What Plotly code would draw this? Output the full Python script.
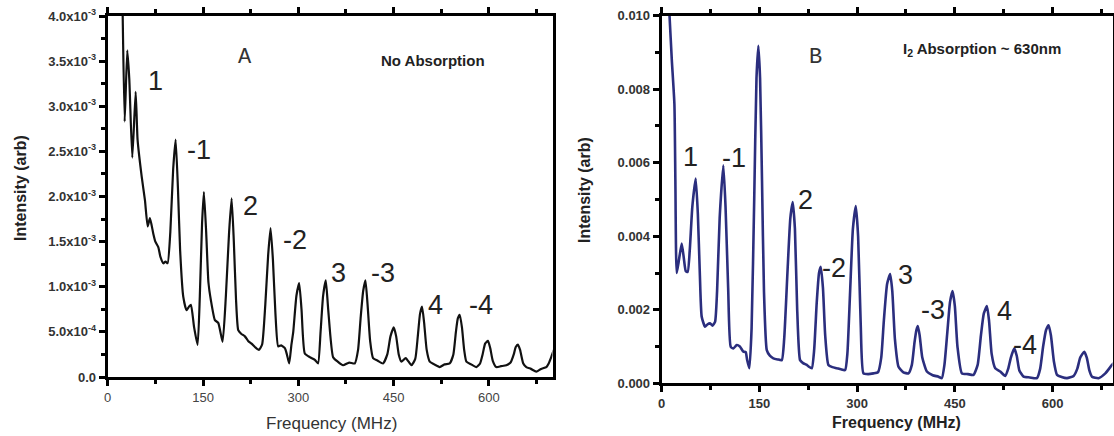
import plotly.graph_objects as go

W, H = 1114, 436

# ---------------- Data ----------------
freq_a = [22.5, 23.6, 26.7, 30.8, 34.0, 38.7, 44.0, 47.0, 53.5, 58.6, 62.9, 66.5, 71.7, 75.0, 79.6,
          83.0, 87.5, 91.0, 94.3, 98.5, 103.0, 106.9, 110.5, 114.0, 118.9, 124.0, 128.0, 131.0,
          136.0, 141.5, 145.0, 148.5, 151.4, 155.0, 158.5, 162.4, 168.7, 174.0, 180.8, 186.0,
          191.0, 195.0, 198.5, 202.0, 205.4, 210.0, 215.9, 221.0, 226.4, 232.0, 237.9, 243.0,
          248.0, 252.5, 256.3, 260.0, 264.0, 268.3, 273.0, 278.8, 282.0, 285.6, 289.0, 292.0,
          297.0, 301.3, 305.0, 310.2, 318.0, 326.0, 331.0, 335.0, 339.0, 343.2, 347.0, 354.7,
          362.0, 370.4, 380.0, 388.8, 394.0, 398.0, 402.0, 405.6, 409.0, 413.0, 417.6, 425.0,
          433.3, 440.0, 445.0, 450.2, 454.0, 458.0, 462.2, 469.0, 478.0, 484.0, 488.0, 491.5,
          494.7, 498.0, 502.0, 506.8, 514.0, 522.5, 530.0, 538.2, 544.0, 548.0, 551.0, 554.0,
          557.5, 561.0, 564.5, 572.0, 580.2, 586.0, 590.0, 594.0, 598.4, 602.0, 606.0, 611.6,
          619.0, 627.4, 634.0, 639.0, 642.0, 645.6, 649.0, 654.0, 658.8, 666.0, 674.5, 682.0,
          690.3, 694.0, 698.0, 702.0]
inten_a = [4.60, 4.00, 2.83, 3.62, 3.30, 2.43, 3.16, 2.63, 2.22, 1.96, 1.67, 1.76, 1.59, 1.50, 1.44,
           1.33, 1.26, 1.28, 1.26, 1.60, 2.30, 2.63, 2.10, 1.40, 0.89, 0.74, 0.78, 0.80,
           0.55, 0.355, 0.90, 1.70, 2.05, 1.60, 1.05, 0.85, 0.63, 0.60, 0.39, 0.90,
           1.60, 1.98, 1.50, 0.85, 0.52, 0.48, 0.45, 0.40, 0.37, 0.33, 0.30, 0.36,
           0.80, 1.35, 1.65, 1.30, 0.70, 0.34, 0.35, 0.32, 0.25, 0.15, 0.35, 0.50,
           0.90, 1.04, 0.75, 0.26, 0.22, 0.19, 0.15, 0.50, 0.90, 1.07, 0.75, 0.22,
           0.17, 0.13, 0.16, 0.15, 0.30, 0.65, 0.95, 1.07, 0.80, 0.40, 0.21, 0.18,
           0.15, 0.25, 0.45, 0.55, 0.45, 0.25, 0.17, 0.21, 0.13, 0.20, 0.45, 0.70,
           0.78, 0.60, 0.30, 0.17, 0.14, 0.11, 0.14, 0.15, 0.25, 0.50, 0.65, 0.69,
           0.55, 0.30, 0.17, 0.14, 0.11, 0.15, 0.25, 0.37, 0.40, 0.32, 0.18, 0.11,
           0.12, 0.13, 0.16, 0.25, 0.33, 0.36, 0.30, 0.15, 0.11, 0.09, 0.06, 0.09,
           0.11, 0.15, 0.22, 0.30]  # units of 1e-3

freq_b = [10.0, 12.0, 15.5, 19.5, 21.0, 23.0, 26.0, 30.7, 34.0, 37.0, 39.9, 43.0, 47.0, 52.2,
          55.5, 58.5, 61.4, 66.5, 70.0, 74.2, 78.0, 81.9, 85.0, 89.0, 94.6, 98.0, 102.0, 106.0,
          110.0, 115.2, 120.0, 125.4, 129.0, 131.0, 134.6, 138.0, 142.0, 145.5, 148.4, 151.0,
          154.0, 157.0, 161.3, 166.0, 171.4, 178.0, 184.3, 188.0, 193.0, 197.5, 201.2, 204.5,
          208.0, 212.4, 217.0, 222.7, 226.0, 230.4, 234.0, 238.0, 241.5, 244.2, 247.5, 251.0,
          255.9, 262.0, 268.8, 275.0, 281.6, 285.0, 289.0, 293.5, 298.0, 301.5, 305.5, 309.7,
          317.0, 325.0, 332.0, 337.0, 341.0, 346.0, 350.7, 354.0, 358.0, 363.5, 371.0, 378.8,
          384.0, 388.0, 391.0, 393.2, 396.0, 400.0, 407.0, 416.0, 424.9, 430.0, 434.0, 438.5,
          442.5, 446.4, 450.0, 454.0, 460.8, 470.0, 478.6, 485.0, 490.0, 494.5, 499.2, 502.5,
          506.5, 512.0, 519.7, 527.4, 532.0, 536.0, 541.2, 545.0, 549.0, 555.5, 565.0, 576.0,
          581.0, 585.5, 590.0, 593.9, 597.5, 602.0, 606.8, 614.0, 622.1, 632.3, 638.0, 642.5,
          648.7, 652.5, 656.5, 660.5, 670.7, 681.0, 691.2, 698.0]
inten_b = [10.6, 10.0, 8.80, 7.60, 5.50, 3.00, 3.30, 3.80, 3.40, 3.05, 3.03, 3.60, 4.80, 5.57,
           4.60, 3.00, 1.81, 1.54, 1.60, 1.63, 1.57, 1.67, 2.50, 4.50, 5.93, 4.80, 2.60, 0.99,
           0.95, 1.04, 1.00, 0.86, 0.85, 0.65, 0.41, 1.50, 5.00, 8.30, 9.18, 8.30,
           5.50, 2.50, 0.90, 0.75, 0.68, 0.65, 0.63, 1.20, 3.00, 4.50, 4.93, 4.20,
           2.00, 0.63, 0.55, 0.50, 0.45, 0.41, 0.90, 2.20, 3.00, 3.17, 2.60, 1.30,
           0.50, 0.44, 0.41, 0.38, 0.36, 0.80, 2.40, 4.20, 4.82, 4.00, 1.60, 0.27,
           0.25, 0.27, 0.30, 0.70, 1.70, 2.70, 2.97, 2.50, 1.20, 0.45, 0.30, 0.27,
           0.50, 1.10, 1.45, 1.56, 1.30, 0.70, 0.32, 0.22, 0.18, 0.14, 0.50, 1.40,
           2.20, 2.51, 2.10, 1.00, 0.27, 0.25, 0.23, 0.50, 1.30, 1.90, 2.10, 1.70,
           0.80, 0.41, 0.32, 0.20, 0.40, 0.70, 0.95, 0.75, 0.35, 0.18, 0.16, 0.14,
           0.40, 1.00, 1.45, 1.58, 1.30, 0.60, 0.23, 0.17, 0.14, 0.20, 0.40, 0.70,
           0.86, 0.70, 0.35, 0.18, 0.14, 0.27, 0.50, 0.62]  # units of 1e-3

x_ticks = [0, 150, 300, 450, 600]
ya_ticks = [0, 0.5e-3, 1.0e-3, 1.5e-3, 2.0e-3, 2.5e-3, 3.0e-3, 3.5e-3, 4.0e-3]
ya_labels = ["0.0", "5.0x10<sup>-4</sup>", "1.0x10<sup>-3</sup>", "1.5x10<sup>-3</sup>",
             "2.0x10<sup>-3</sup>", "2.5x10<sup>-3</sup>", "3.0x10<sup>-3</sup>",
             "3.5x10<sup>-3</sup>", "4.0x10<sup>-3</sup>"]
yb_ticks = [0.0, 0.002, 0.004, 0.006, 0.008, 0.010]
yb_labels = ["0.000", "0.002", "0.004", "0.006", "0.008", "0.010"]

peak_labels_a = ["1", "-1", "2", "-2", "3", "-3", "4", "-4"]
peak_labels_b = ["1", "-1", "2", "-2", "3", "-3", "4", "-4"]

# ---------------- Figure ----------------
def px_x(p):
    return p / W

def px_y(p):
    return 1 - p / H

fig = go.Figure()
fig.add_trace(go.Scatter(x=freq_a, y=[v * 1e-3 for v in inten_a], mode="lines",
                         line=dict(color="#111111", width=2.2, shape="spline", smoothing=0.5),
                         xaxis="x", yaxis="y", showlegend=False))
fig.add_trace(go.Scatter(x=freq_b, y=[v * 1e-3 for v in inten_b], mode="lines",
                         line=dict(color="#2b2e7e", width=2.6, shape="spline", smoothing=0.5),
                         xaxis="x2", yaxis="y2", showlegend=False))

FONT = "Liberation Sans, Arial, sans-serif"
axcommon = dict(showgrid=False, zeroline=False, showline=True, linecolor="black", linewidth=3,
                ticks="outside", ticklen=6, tickwidth=3, tickcolor="black", automargin=False)

fig.update_layout(
    width=W, height=H,
    margin=dict(l=0, r=0, t=0, b=0),
    paper_bgcolor="white", plot_bgcolor="white",
    font=dict(family=FONT, color="#333333"),
    xaxis=dict(domain=[px_x(107.7), px_x(552.5)], range=[0, 700], anchor="y",
               tickmode="array", tickvals=x_ticks, mirror="ticks",
               minor=dict(dtick=75, tick0=0, ticklen=4, tickwidth=3, ticks="outside", tickcolor="black"),
               tickfont=dict(size=13, color="#444444", family=FONT), **axcommon),
    yaxis=dict(domain=[px_y(377), px_y(16)], range=[0, 4.0e-3], anchor="x",
               tickmode="array", tickvals=ya_ticks, ticktext=ya_labels, mirror=True,
               minor=dict(dtick=0.25e-3, tick0=0, ticklen=4, tickwidth=3, ticks="outside", tickcolor="black"),
               tickfont=dict(size=13, color="#333333", family=FONT, weight="bold"), **axcommon),
    xaxis2=dict(domain=[px_x(661.7), px_x(1112.5)], range=[0, 692], anchor="y2",
                tickmode="array", tickvals=x_ticks, mirror="ticks",
                minor=dict(dtick=75, tick0=0, ticklen=4, tickwidth=3, ticks="outside", tickcolor="black"),
                tickfont=dict(size=13, color="#333333", family=FONT, weight="bold"), **axcommon),
    yaxis2=dict(domain=[px_y(383.3), px_y(15.7)], range=[0, 0.010], anchor="x2",
                tickmode="array", tickvals=yb_ticks, ticktext=yb_labels, mirror=True,
                minor=dict(dtick=0.001, tick0=0, ticklen=4, tickwidth=3, ticks="outside", tickcolor="black"),
                tickfont=dict(size=13, color="#333333", family=FONT, weight="bold"), **axcommon),
)

ann = []
# axis titles
ann.append(dict(x=px_x(20), y=px_y(188), text="<b>Intensity (arb)</b>", textangle=-90,
                font=dict(size=16, color="#222222")))
ann.append(dict(x=px_x(585), y=px_y(190), text="<b>Intensity (arb)</b>", textangle=-90,
                font=dict(size=16, color="#222222")))
ann.append(dict(x=px_x(331.7), y=px_y(423), text="Frequency (MHz)", font=dict(size=17, color="#333333")))
ann.append(dict(x=px_x(896), y=px_y(422), text="<b>Frequency (MHz)</b>", font=dict(size=16, color="#222222")))
# panel labels
ann.append(dict(x=px_x(245), y=px_y(57), text="A", font=dict(size=22, family="Liberation Mono, Courier New, monospace", color="#333333")))
ann.append(dict(x=px_x(815), y=px_y(57), text="B", font=dict(size=22, family="Liberation Mono, Courier New, monospace", color="#333333")))
ann.append(dict(x=px_x(433), y=px_y(60), text="<b>No Absorption</b>", font=dict(size=15, color="#222222")))
ann.append(dict(x=px_x(982), y=px_y(50), text="<b>I<sub>2</sub> Absorption ~ 630nm</b>", font=dict(size=15, color="#222222")))

pos_a = [(155, 81), (199, 150), (250, 206), (295, 240), (339, 273), (383, 273), (435, 305), (481, 305)]
pos_b = [(690, 157), (734, 158), (805, 200), (834, 268), (905, 275), (933, 310), (1004, 311), (1025, 345)]
for t, (xx, yy) in zip(peak_labels_a, pos_a):
    ann.append(dict(x=px_x(xx), y=px_y(yy), text=t, font=dict(size=27, color="#222222")))
for t, (xx, yy) in zip(peak_labels_b, pos_b):
    ann.append(dict(x=px_x(xx), y=px_y(yy), text=t, font=dict(size=27, color="#222222")))

for a in ann:
    a.update(xref="paper", yref="paper", showarrow=False, xanchor="center", yanchor="middle")
fig.update_layout(annotations=ann)

fig.write_html("out.html", config={"displayModeBar": False},
               post_script="document.body.style.margin='0';document.body.style.overflow='hidden';")
